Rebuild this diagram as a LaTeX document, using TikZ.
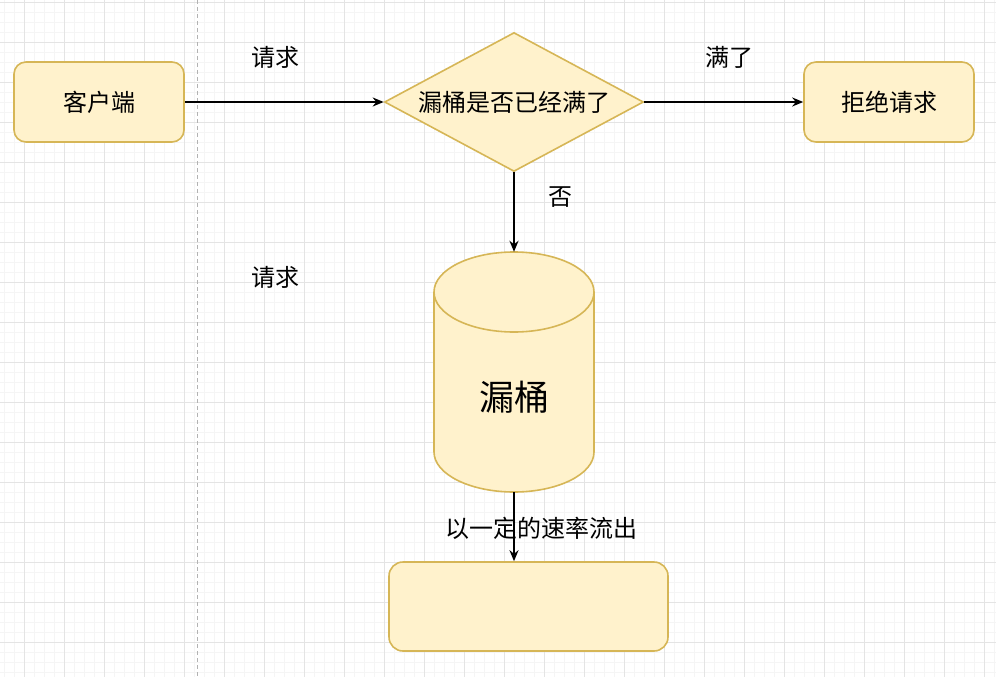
\documentclass[tikz,border=0pt]{standalone}
\usepackage{fontspec}
\setmainfont{Noto Sans CJK SC}
\usetikzlibrary{shapes.geometric,arrows.meta}
\definecolor{fillc}{HTML}{FFF2CC}
\definecolor{strokec}{HTML}{D6B656}
\definecolor{gridmaj}{HTML}{E4E4E4}
\definecolor{gridmin}{HTML}{F5F5F5}
\begin{document}
\begin{tikzpicture}[x=1pt,y=1pt,
  box/.style={draw=strokec,fill=fillc,line width=1.6pt,rounded corners=12pt,inner sep=0pt,font=\fontsize{24}{27}\selectfont},
  dia/.style={diamond,draw=strokec,fill=fillc,line width=1.6pt,inner sep=0pt,aspect=1.86,font=\fontsize{24}{27}\selectfont},
  lbl/.style={inner sep=0pt,font=\fontsize{24}{27}\selectfont},
  conn/.style={line width=1.8pt,-{Stealth[length=11pt,width=9pt]}}]
\useasboundingbox (0,0) rectangle (996,-677);
\fill[white] (0,0) rectangle (996,-677);
% grid
\foreach \x in {4.5,14.5,...,996} {\draw[gridmin,line width=0.8pt] (\x,0) -- (\x,-677);}
\foreach \y in {2.7,12.7,...,677} {\draw[gridmin,line width=0.8pt] (0,-\y) -- (996,-\y);}
\foreach \x in {24.5,64.5,...,996} {\draw[gridmaj,line width=0.9pt] (\x,0) -- (\x,-677);}
\foreach \y in {2.7,42.7,...,677} {\draw[gridmaj,line width=0.9pt] (0,-\y) -- (996,-\y);}
\draw[gray!60,line width=0.8pt,dash pattern=on 4pt off 3pt] (197.5,0) -- (197.5,-677);
% nodes
\node[box,minimum width=170pt,minimum height=80pt] (client) at (99,-102) {客户端};
\node[dia,minimum width=259pt,minimum height=139pt] (check) at (514,-102) {漏桶是否已经满了};
\node[box,minimum width=170pt,minimum height=80pt] (reject) at (889,-102) {拒绝请求};
% cylinder
\fill[fillc] (434,-292) -- (434,-452) arc[start angle=180,end angle=360,x radius=80,y radius=40]
  -- (594,-292) arc[start angle=0,end angle=180,x radius=80,y radius=40] -- cycle;
\draw[strokec,line width=1.6pt] (434,-292) -- (434,-452) arc[start angle=180,end angle=360,x radius=80,y radius=40] -- (594,-292);
\draw[strokec,line width=1.6pt] (514,-292) ellipse[x radius=80,y radius=40];
\node[inner sep=0pt,minimum width=160pt,minimum height=240pt] (bucket) at (514,-372) {};
\node[lbl,font=\fontsize{35}{39}\selectfont] (bucketlbl) at (514,-397) {漏桶};
\node[box,rounded corners=14pt,minimum width=279pt,minimum height=89pt] (out) at (528.5,-606.5) {};
% connectors
\draw[conn] (client.east) -- (check.west);
\draw[conn] (check.east) -- (reject.west);
\draw[conn] (check.south) -- (bucket.north);
\draw[conn] (bucket.south) -- (out.north -| bucket.south);
% labels
\node[lbl] (l1) at (275,-57) {请求};
\node[lbl] (l2) at (729,-57) {满了};
\node[lbl] (l3) at (560,-197) {否};
\node[lbl] (l4) at (275,-277) {请求};
\node[lbl] (l5) at (541,-528) {以一定的速率流出};
\end{tikzpicture}
\end{document}
